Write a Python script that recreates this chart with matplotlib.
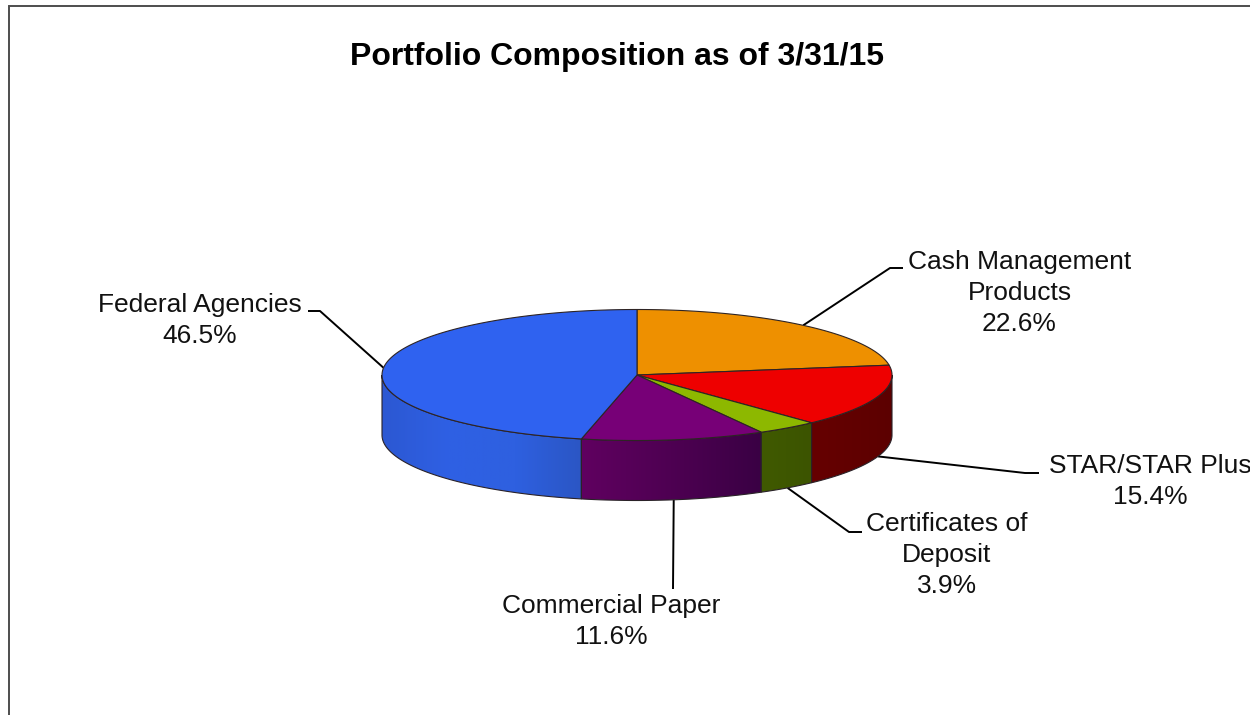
import numpy as np
import matplotlib
matplotlib.use("Agg")
import matplotlib.pyplot as plt
from matplotlib.colors import LinearSegmentedColormap
from matplotlib.patches import Polygon, Rectangle

plt.rcParams['font.family'] = ['Liberation Sans', 'DejaVu Sans']

# data, clockwise from 12 o'clock
names = ["Cash Management\nProducts", "STAR/STAR Plus", "Certificates of\nDeposit",
         "Commercial Paper", "Federal Agencies"]
values = [22.6, 15.4, 3.9, 11.6, 46.5]
top_colors = ["#EE9000", "#EE0000", "#8DB800", "#770077", "#2F62F0"]
# colour lists run left to right on screen
side_colors = [["#9A5E00", "#9A5E00"],
               ["#660000", "#5C0000"],
               ["#405A00", "#3C5400"],
               ["#600060", "#4E0052", "#3A0044"],
               ["#2C58D2", "#2F60E4", "#2E60E0", "#2B56C4"]]
title = "Portfolio Composition as of 3/31/15"

# layout in pixels
cx, cy = 637, 375
rx, ry = 255, 65.5
depth = 60
# centre x and last baseline of each label
label_pos = [(1019.5, 331), (1150, 504), (947, 593), (611, 643.5), (199.5, 343)]
elbows = [[(890, 268), (903, 268)],
          [(1025, 473), (1039, 473)],
          [(849, 532), (862, 532)],
          [(673, 589)],
          [(320, 311), (308, 311)]]
txt_px = 26.4


def ellipse(t, dy=0):
    t = np.radians(t)
    return cx + rx * np.sin(t), cy - ry * np.cos(t) + dy


fig = plt.figure(figsize=(12.5, 7.15), dpi=100)
ax = fig.add_axes([0, 0, 1, 1])

ax.add_patch(Rectangle((9, 6), 1400, 900, fc="white", ec="#4d4d4d", lw=1.4))

edges = np.concatenate([[0], np.cumsum(values)]) / sum(values) * 360

# side walls, only the front half of the rim shows
for i in range(len(values)):
    a = max(edges[i], 90)
    b = min(edges[i + 1], 270)
    if b <= a:
        continue
    t = np.linspace(a, b, 120)
    x1, y1 = ellipse(t)
    x2, y2 = ellipse(t[::-1], depth)
    xy = np.column_stack([np.r_[x1, x2], np.r_[y1, y2]])
    poly = Polygon(xy, closed=True, fc="none", ec="none")
    ax.add_patch(poly)
    cmap = LinearSegmentedColormap.from_list("side%d" % i, side_colors[i])
    grad = np.linspace(0, 1, 256).reshape(1, -1)
    im = ax.imshow(grad, cmap=cmap, aspect="auto", zorder=2,
                   extent=(xy[:, 0].min(), xy[:, 0].max(), xy[:, 1].max(), xy[:, 1].min()))
    im.set_clip_path(poly)
    ax.add_patch(Polygon(xy, closed=True, fc="none", ec="#2a2228", lw=0.8, zorder=3))

# top faces
for i in range(len(values)):
    t = np.linspace(edges[i], edges[i + 1], 200)
    x, y = ellipse(t)
    xy = np.column_stack([np.r_[cx, x], np.r_[cy, y]])
    ax.add_patch(Polygon(xy, closed=True, fc=top_colors[i], ec="#2e2424", lw=0.8, zorder=4))

# leader lines start on the rim at the middle of each slice
for i in range(len(values)):
    mid = (edges[i] + edges[i + 1]) / 2
    x0, y0 = ellipse(mid, depth if 90 < mid < 270 else 0)
    pts = [(x0, y0)] + elbows[i]
    ax.plot([p[0] for p in pts], [p[1] for p in pts], color="black", lw=1.4, zorder=1,
            solid_capstyle="butt")
    pct = "%s\n%.1f%%" % (names[i], values[i])
    ax.text(label_pos[i][0], label_pos[i][1], pct, ha="center", va="baseline", multialignment="center",
            fontsize=txt_px * 0.72, linespacing=1.36, color="#111111", zorder=5, clip_on=True)

ax.text(617.5, 65, title, ha="center", va="baseline", fontsize=23, fontweight="bold", color="black")

ax.set_xlim(0, 1250)
ax.set_ylim(715, 0)
ax.axis("off")
fig.savefig("out.png", dpi=100, facecolor="white")
